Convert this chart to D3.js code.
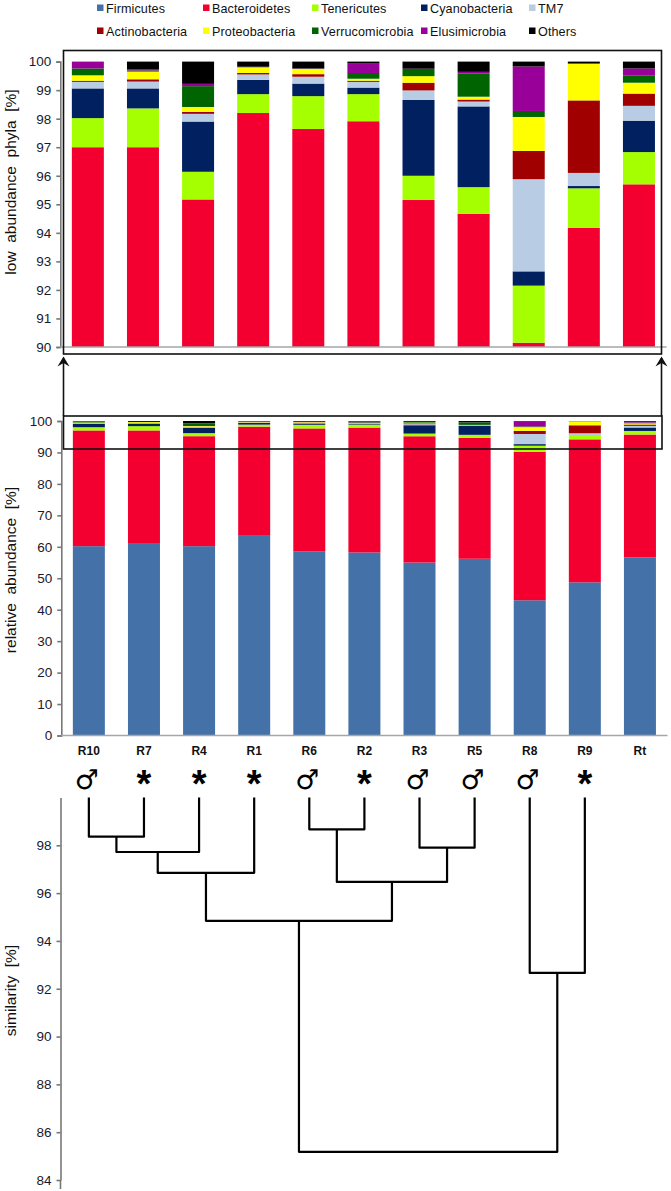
<!DOCTYPE html>
<html>
<head>
<meta charset="utf-8">
<script src="https://cdn.jsdelivr.net/npm/d3@7"></script>
<style>
html, body { margin: 0; padding: 0; background: #fff; }
svg { display: block; }
text { font-family: "Liberation Sans", Arial, sans-serif; fill: #111; }
.axis path, .axis line { stroke: #777; stroke-width: 1.6; }
.axis text { font-size: 13.5px; fill: #1a1a2e; }
</style>
</head>
<body>
<svg id="chart" width="671" height="1191"></svg>
<script>
const samples = ["R10", "R7", "R4", "R1", "R6", "R2", "R3", "R5", "R8", "R9", "Rt"];
const phyla = ["Firmicutes", "Bacteroidetes", "Tenericutes", "Cyanobacteria", "TM7",
	"Actinobacteria", "Proteobacteria", "Verrucomicrobia", "Elusimicrobia", "Others"];
const colors = ["#4472a8", "#f40030", "#a6ff00", "#002060", "#b8cce4",
	"#a00000", "#ffff00", "#006400", "#990099", "#000000"];

const firmicutes = [60.2, 61.2, 60.2, 63.5, 58.6, 58.2, 55, 56.2, 43, 48.7, 56.6];
const bacteroidetes = [36.8, 35.8, 34.97, 34.7, 39.04, 39.71, 40.15, 38.47, 47.15, 45.47, 39.1];
const tenericutes = [1.02, 1.36, 0.97, 0.66, 1.15, 0.95, 0.85, 0.93, 2.0, 1.39, 1.13];
const cyanobacteria = [1.04, 0.7, 1.76, 0.5, 0.44, 0.23, 2.66, 2.83, 0.5, 0.08, 1.1];
const tm7 = [0.23, 0.24, 0.27, 0.19, 0.24, 0.2, 0.33, 0.17, 3.23, 0.46, 0.52];
const actinobacteria = [0.04, 0.08, 0.07, 0.05, 0.09, 0.04, 0.27, 0.07, 0.99, 2.54, 0.43];
const proteobacteria = [0.19, 0.27, 0.17, 0.2, 0.18, 0.07, 0.23, 0.1, 1.19, 1.29, 0.38];
const verrucomicrobia = [0.24, 0.04, 0.73, 0.01, 0.01, 0.2, 0.25, 0.82, 0.21, 0, 0.26];
const elusimicrobia = [0.24, 0.03, 0.08, 0.01, 0.01, 0.33, 0.01, 0.05, 1.56, 0, 0.24];
const others = [0, 0.28, 0.78, 0.18, 0.24, 0.07, 0.26, 0.36, 0.17, 0.07, 0.24];
const seriesValues = [firmicutes, bacteroidetes, tenericutes, cyanobacteria, tm7,
	actinobacteria, proteobacteria, verrucomicrobia, elusimicrobia, others];

const topTicks = [90, 91, 92, 93, 94, 95, 96, 97, 98, 99, 100];
const lowerTicks = [0, 10, 20, 30, 40, 50, 60, 70, 80, 90, 100];
const similarityTicks = [84, 86, 88, 90, 92, 94, 96, 98];

// sex marks above the dendrogram
const marks = ["\u2642", "*", "*", "*", "\u2642", "*", "\u2642", "\u2642", "\u2642", "*"];

// dendrogram merges: [left child, right child, similarity]
const merges = [
	["R10", "R7", 98.36],
	["n0", "R4", 97.72],
	["n1", "R1", 96.85],
	["R6", "R2", 98.67],
	["R3", "R5", 97.9],
	["n3", "n4", 96.47],
	["n2", "n5", 94.84],
	["R8", "R9", 92.66],
	["n6", "n7", 85.18]
];

const svg = d3.select("#chart");

const rows = samples.map((s, i) => {
	const row = {sample: s};
	phyla.forEach((p, k) => { row[p] = seriesValues[k][i]; });
	return row;
});
const stacked = d3.stack().keys(phyla)(rows);
const zScale = d3.scaleOrdinal().domain(phyla).range(colors);

function drawBars(xScale, yScale, barWidth) {
	const group = svg.append("g");
	group.selectAll("g.layer")
		.data(stacked)
		.enter()
		.append("g")
		.attr("class", "layer")
		.attr("fill", d => zScale(d.key))
		.selectAll("rect")
		.data(d => d)
		.enter()
		.append("rect")
		.attr("x", d => xScale(d.data.sample) + (xScale.bandwidth() - barWidth) / 2)
		.attr("width", barWidth)
		.attr("y", d => yScale(d[1]))
		.attr("height", d => yScale(d[0]) - yScale(d[1]));
}

function drawAxes(xScale, yScale, ticks) {
	svg.append("g")
		.attr("class", "axis")
		.attr("transform", `translate(${xScale.range()[0]},0)`)
		.call(d3.axisLeft(yScale).tickValues(ticks).tickSize(4).tickSizeOuter(4).tickPadding(5).tickFormat(d3.format("d")));
	svg.append("line")
		.attr("x1", xScale.range()[0])
		.attr("x2", xScale.range()[1])
		.attr("y1", yScale.range()[0])
		.attr("y2", yScale.range()[0])
		.attr("stroke", "#a6a6a6")
		.attr("stroke-width", 1.3);
}

// upper chart, zoomed on the last 10 %
const xTop = d3.scaleBand().domain(samples).range([60.3, 666.5]);
const yTop = d3.scaleLinear().domain([90, 100]).range([347, 61.6]).clamp(true);
drawBars(xTop, yTop, 32);
drawAxes(xTop, yTop, topTicks);

// lower chart
const xLow = d3.scaleBand().domain(samples).range([61.3, 667.5]);
const yLow = d3.scaleLinear().domain([0, 100]).range([735.5, 421]);
drawBars(xLow, yLow, 32);
drawAxes(xLow, yLow, lowerTicks);

svg.selectAll("text.sample")
	.data(samples)
	.enter()
	.append("text")
	.attr("class", "sample")
	.attr("x", d => xLow(d) + xLow.bandwidth() / 2)
	.attr("y", 755)
	.attr("text-anchor", "middle")
	.attr("font-size", "12px")
	.attr("font-weight", "bold")
	.text(d => d);

// frames and arrows joining the two charts
const frame = svg.append("g").attr("fill", "none").attr("stroke", "#111").attr("stroke-width", 1.6);
frame.append("rect").attr("x", 63.5).attr("y", 50.5).attr("width", 598).attr("height", 303.5);
frame.append("rect").attr("x", 63.5).attr("y", 416).attr("width", 598.5).attr("height", 33);
[63.5, 661.5].forEach(x => {
	frame.append("line").attr("x1", x).attr("x2", x).attr("y1", 358).attr("y2", 416);
	svg.append("path")
		.attr("d", `M${x},356.5 L${x + 6},366.5 L${x},363 L${x - 6},366.5 Z`)
		.attr("fill", "#111");
});

// legend
const legendX = [97, 203, 312, 421, 529];
phyla.forEach((p, i) => {
	const col = i % 5, row = Math.floor(i / 5);
	const y = row === 0 ? 8 : 31;
	svg.append("rect")
		.attr("x", legendX[col])
		.attr("y", y - 3.5)
		.attr("width", 6.5)
		.attr("height", 6.5)
		.attr("fill", colors[i]);
	svg.append("text")
		.attr("x", legendX[col] + 9)
		.attr("y", y + 4.5)
		.attr("font-size", "12.6px")
		.style("letter-spacing", "0.1px")
		.text(p);
});

// y axis titles
function yTitle(label, cy) {
	svg.append("text")
		.attr("transform", `translate(16,${cy}) rotate(-90)`)
		.attr("text-anchor", "middle")
		.attr("font-size", "15.5px")
		.style("white-space", "pre")
		.text(label);
}
yTitle("low  abundance  phyla  [%]", 182);
yTitle("relative  abundance  [%]", 570);
yTitle("similarity  [%]", 990.5);

// sex marks
const leaves = samples.slice(0, 10);
svg.selectAll("text.mark")
	.data(leaves)
	.enter()
	.append("text")
	.attr("class", "mark")
	.attr("x", d => xLow(d) + xLow.bandwidth() / 2 - (marks[leaves.indexOf(d)] === "*" ? 0 : 2))
	.attr("y", (d, i) => marks[i] === "*" ? 797 : 789)
	.attr("text-anchor", "middle")
	.style("font-family", (d, i) => marks[i] === "*" ? '"Liberation Sans", sans-serif' : '"DejaVu Sans", sans-serif')
	.attr("font-size", (d, i) => marks[i] === "*" ? "38px" : "27px")
	.attr("font-weight", (d, i) => marks[i] === "*" ? "bold" : "normal")
	.style("fill", "#000")
	.text((d, i) => marks[i]);

// dendrogram
const ySim = d3.scaleLinear().domain([84, 100]).range([1180, 797.5]);
const simAxis = d3.axisLeft(ySim).tickValues(similarityTicks).tickSize(4).tickSizeOuter(0).tickPadding(5);
svg.append("g")
	.attr("class", "axis")
	.attr("transform", "translate(60.5,0)")
	.call(simAxis);
svg.append("line")
	.attr("x1", 60.5).attr("x2", 60.5)
	.attr("y1", 1180).attr("y2", 1189)
	.attr("stroke", "#777").attr("stroke-width", 1.6);

const nodes = {};
leaves.forEach(s => {
	nodes[s] = {x: xLow(s) + xLow.bandwidth() / 2, v: 100};
});
const dendro = svg.append("g").attr("fill", "none").attr("stroke", "#000")
	.attr("stroke-width", 2.2).attr("stroke-linejoin", "round");
merges.forEach((m, i) => {
	const a = nodes[m[0]], b = nodes[m[1]];
	nodes["n" + i] = {x: (a.x + b.x) / 2, v: m[2]};
	const path = d3.path();
	path.moveTo(a.x, ySim(a.v));
	path.lineTo(a.x, ySim(m[2]));
	path.lineTo(b.x, ySim(m[2]));
	path.lineTo(b.x, ySim(b.v));
	dendro.append("path").attr("d", path.toString());
});
</script>
</body>
</html>
